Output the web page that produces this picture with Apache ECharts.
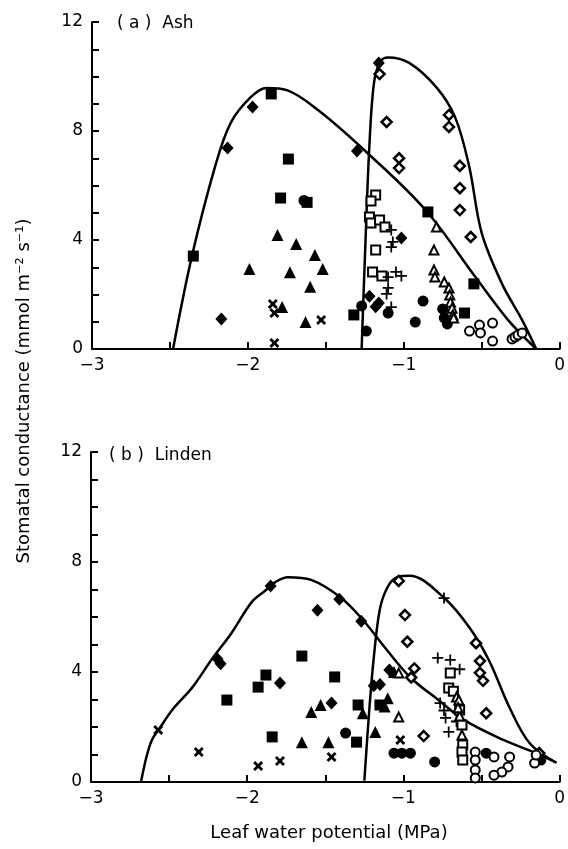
<!DOCTYPE html>
<html>
<head>
<meta charset="utf-8">
<script src="https://cdn.jsdelivr.net/npm/echarts@6/dist/echarts.min.js"></script>
<style>
  html, body { margin: 0; padding: 0; background: #fff; }
  #chart { width: 568px; height: 849px; }
</style>
</head>
<body>
<div id="chart"></div>
<script>
// ---- data: [leaf water potential (MPa), conductance] ----
const xTicks = [-3, -2, -1, 0]
const yTicks = [0, 4, 8, 12]

// (a) Ash
const ashCurveLeft = [[-2.48, 0], [-2.36, 3.38], [-2.21, 6.7], [-2.11, 8.3], [-1.98, 9.25], [-1.88, 9.58],
  [-1.75, 9.5], [-1.55, 8.77], [-1.24, 7.23], [-0.86, 5.1], [-0.54, 2.64], [-0.33, 1.06], [-0.15, 0]]
const ashCurveRight = [[-1.27, 0], [-1.245, 4], [-1.22, 7.5], [-1.19, 9.8], [-1.15, 10.55], [-1.1, 10.7],
  [-0.965, 10.5], [-0.79, 9.6], [-0.67, 8.5], [-0.58, 6.7], [-0.5, 4.26], [-0.37, 2.4], [-0.24, 1.06], [-0.15, 0]]
const ashDiamondFilled = [[-1.97, 8.88], [-2.13, 7.38], [-2.17, 1.1], [-1.3, 7.27], [-1.015, 4.07],
  [-1.16, 10.5], [-1.22, 1.94], [-1.16, 1.69], [-1.18, 1.55]]
const ashSquareFilled = [[-1.85, 9.36], [-2.35, 3.41], [-1.74, 6.97], [-1.79, 5.54], [-1.62, 5.38],
  [-0.845, 5.03], [-0.55, 2.39], [-0.61, 1.32], [-1.32, 1.25]]
const ashCircleFilled = [[-1.64, 5.45], [-1.27, 1.58], [-1.1, 1.32], [-1.24, 0.66], [-0.876, 1.76],
  [-0.926, 0.99], [-0.75, 1.47], [-0.74, 1.14], [-0.72, 0.92]]
const ashTriangleFilled = [[-1.81, 4.18], [-1.69, 3.85], [-1.57, 3.45], [-1.99, 2.94], [-1.73, 2.82],
  [-1.52, 2.94], [-1.6, 2.28], [-1.78, 1.54], [-1.63, 0.99]]
const ashCross = [[-1.84, 1.65], [-1.83, 1.32], [-1.53, 1.06], [-1.83, 0.22]]
const ashSquareOpen = [[-1.18, 5.65], [-1.21, 5.43], [-1.22, 4.84], [-1.21, 4.62], [-1.155, 4.73],
  [-1.12, 4.48], [-1.18, 3.63], [-1.2, 2.83], [-1.14, 2.68]]
const ashPlus = [[-1.08, 4.37], [-1.07, 3.93], [-1.08, 3.74], [-1.05, 2.83], [-1.015, 2.68],
  [-1.1, 2.64], [-1.1, 2.24], [-1.11, 2.02], [-1.08, 1.54]]
const ashTriangleOpen = [[-0.79, 4.48], [-0.806, 3.63], [-0.806, 2.9], [-0.8, 2.64], [-0.74, 2.46],
  [-0.71, 2.24], [-0.705, 1.98], [-0.7, 1.72], [-0.69, 1.5], [-0.685, 1.25], [-0.68, 1.14]]
const ashCircleOpen = [[-0.578, 0.66], [-0.514, 0.88], [-0.508, 0.59], [-0.43, 0.95], [-0.43, 0.29],
  [-0.305, 0.37], [-0.286, 0.44], [-0.267, 0.51], [-0.24, 0.59]]
const ashDiamondOpen = [[-1.155, 10.09], [-1.11, 8.33], [-1.03, 7.0], [-1.03, 6.64], [-0.71, 8.59],
  [-0.71, 8.15], [-0.64, 6.72], [-0.64, 5.9], [-0.64, 5.1], [-0.57, 4.11]]

// (b) Linden
const lindenCurveLeft = [[-2.68, 0], [-2.645, 0.91], [-2.61, 1.53], [-2.56, 1.96], [-2.48, 2.62],
  [-2.35, 3.45], [-2.23, 4.44], [-2.1, 5.42], [-1.97, 6.55], [-1.88, 6.98], [-1.82, 7.27], [-1.74, 7.45],
  [-1.59, 7.35], [-1.4, 6.7], [-1.26, 5.9], [-1.12, 4.9], [-0.955, 3.8], [-0.78, 3.0], [-0.61, 2.25],
  [-0.36, 1.53], [-0.15, 1.05], [-0.02, 0.7]]
const lindenCurveRight = [[-1.25, 0.05], [-1.22, 2.5], [-1.19, 4.5], [-1.15, 6.3], [-1.1, 7.1],
  [-1.04, 7.45], [-0.96, 7.5], [-0.74, 6.7], [-0.575, 5.6], [-0.45, 4.4], [-0.32, 2.7], [-0.19, 1.4], [-0.02, 0.7]]
const lindenCross = [[-2.57, 1.89], [-2.31, 1.09], [-1.93, 0.58], [-1.79, 0.76], [-1.46, 0.91], [-1.02, 1.53]]
const lindenDiamondFilled = [[-2.19, 4.47], [-2.17, 4.3], [-1.85, 7.13], [-1.79, 3.6], [-1.55, 6.25],
  [-1.41, 6.65], [-1.27, 5.85], [-1.46, 2.87], [-1.19, 3.5], [-1.15, 3.55], [-1.09, 4.07]]
const lindenSquareFilled = [[-2.13, 2.98], [-1.93, 3.45], [-1.88, 3.89], [-1.84, 1.64], [-1.65, 4.58],
  [-1.44, 3.82], [-1.29, 2.8], [-1.3, 1.45], [-1.15, 2.8]]
const lindenTriangleFilled = [[-1.59, 2.55], [-1.53, 2.8], [-1.65, 1.45], [-1.48, 1.45], [-1.26, 2.5],
  [-1.18, 1.82], [-1.1, 3.05], [-1.12, 2.75], [-1.06, 4.0]]
const lindenCircleFilled = [[-1.37, 1.78], [-1.06, 1.05], [-1.01, 1.05], [-0.955, 1.05], [-0.8, 0.73],
  [-0.47, 1.05], [-0.12, 0.8]]
const lindenDiamondOpen = [[-1.03, 7.31], [-0.99, 6.07], [-0.975, 5.1], [-0.93, 4.13], [-0.95, 3.8],
  [-0.87, 1.67], [-0.535, 5.05], [-0.51, 4.4], [-0.51, 3.97], [-0.49, 3.68], [-0.47, 2.5], [-0.13, 1.05]]
const lindenPlus = [[-0.74, 6.69], [-0.78, 4.51], [-0.7, 4.44], [-0.64, 4.1], [-0.765, 2.87],
  [-0.74, 2.6], [-0.73, 2.33], [-0.71, 1.82], [-0.66, 2.2]]
const lindenSquareOpen = [[-0.7, 3.96], [-0.71, 3.42], [-0.68, 3.3], [-0.64, 2.62], [-0.625, 2.07],
  [-0.62, 1.35], [-0.625, 1.09], [-0.62, 0.8]]
const lindenTriangleOpen = [[-1.03, 3.96], [-1.03, 2.36], [-0.66, 3.09], [-0.645, 2.98], [-0.64, 2.4],
  [-0.625, 1.71], [-0.65, 2.7]]
const lindenCircleOpen = [[-0.54, 1.09], [-0.54, 0.8], [-0.54, 0.44], [-0.54, 0.15], [-0.42, 0.91],
  [-0.32, 0.91], [-0.33, 0.55], [-0.37, 0.36], [-0.42, 0.25], [-0.16, 0.69], [-0.15, 0.98]]

const crossPath = 'path://M2,0L5,3L8,0L10,2L7,5L10,8L8,10L5,7L2,10L0,8L3,5L0,2Z'
const plusPath = 'path://M4.2,0H5.8V4.2H10V5.8H5.8V10H4.2V5.8H0V4.2H4.2Z'

const styles = {
  diamondF: { symbol: 'diamond', symbolSize: [12, 13], itemStyle: { color: '#000', opacity: 1 } },
  squareF: { symbol: 'rect', symbolSize: 11, itemStyle: { color: '#000', opacity: 1 } },
  circleF: { symbol: 'circle', symbolSize: 11, itemStyle: { color: '#000', opacity: 1 } },
  triF: { symbol: 'triangle', symbolSize: 12, itemStyle: { color: '#000', opacity: 1 } },
  cross: { symbol: crossPath, symbolSize: 10, itemStyle: { color: '#000', opacity: 1 } },
  plus: { symbol: plusPath, symbolSize: 11, itemStyle: { color: '#000', opacity: 1 } },
  squareO: { symbol: 'rect', symbolSize: 9, itemStyle: { color: '#fff', borderColor: '#000', borderWidth: 2, opacity: 1 } },
  triO: { symbol: 'triangle', symbolSize: 9, itemStyle: { color: '#fff', borderColor: '#000', borderWidth: 2, opacity: 1 } },
  circleO: { symbol: 'circle', symbolSize: 9, itemStyle: { color: '#fff', borderColor: '#000', borderWidth: 2, opacity: 1 } },
  diamondO: { symbol: 'diamond', symbolSize: 10, itemStyle: { color: '#fff', borderColor: '#000', borderWidth: 2.5, opacity: 1 } }
}

function scatter(data, style, idx) {
  return Object.assign({
    type: 'scatter', xAxisIndex: idx, yAxisIndex: idx, data: data, z: 3
  }, styles[style])
}

function curve(data, idx) {
  return {
    type: 'line', xAxisIndex: idx, yAxisIndex: idx, data: data, smooth: 0.35,
    showSymbol: false, lineStyle: { color: '#000', width: 2.5 }, z: 2
  }
}

function xAxis(idx) {
  return {
    type: 'value', gridIndex: idx, min: -3, max: 0, interval: 1,
    axisLine: { onZero: false, lineStyle: { color: '#000', width: 2 } },
    axisTick: { inside: true, length: 7, lineStyle: { width: 2 } },
    minorTick: { show: true, splitNumber: 2, length: 7, lineStyle: { color: '#000', width: 2 } },
    splitLine: { show: false },
    axisLabel: {
      color: '#000', fontSize: 17, fontFamily: 'DejaVu Sans', margin: 8,
      formatter: v => (v < 0 ? '\u2212' + Math.abs(v) : String(v))
    }
  }
}

function yAxis(idx) {
  return {
    type: 'value', gridIndex: idx, min: 0, max: 12, interval: 4,
    axisLine: { show: true, onZero: false, lineStyle: { color: '#000', width: 2 } },
    axisTick: { show: true, inside: true, length: 7, lineStyle: { width: 2 } },
    minorTick: { show: true, splitNumber: 4, length: 7, lineStyle: { color: '#000', width: 2 } },
    splitLine: { show: false },
    axisLabel: { color: '#000', fontSize: 17, fontFamily: 'DejaVu Sans', margin: 9 }
  }
}

const chart = echarts.init(document.getElementById('chart'), null, { renderer: 'canvas' })

const option = {
  backgroundColor: '#fff',
  animation: false,
  grid: [
    { left: 92, top: 22, width: 473, height: 327 },
    { left: 91, top: 452, width: 472, height: 330 }
  ],
  xAxis: [xAxis(0), xAxis(1)],
  yAxis: [yAxis(0), yAxis(1)],
  graphic: [
    { type: 'text', left: 117, top: 15, style: { text: '( a )  Ash', font: '17px DejaVu Sans', fill: '#000' } },
    { type: 'text', left: 109, top: 447, style: { text: '( b )  Linden', font: '17px DejaVu Sans', fill: '#000' } },
    {
      type: 'text', x: 24, y: 391, rotation: Math.PI / 2,
      style: {
        text: 'Stomatal conductance (mmol m\u207B\u00B2 s\u207B\u00B9)', font: '18px DejaVu Sans',
        fill: '#000', align: 'center', verticalAlign: 'middle'
      }
    },
    {
      type: 'text', x: 329, y: 833,
      style: { text: 'Leaf water potential (MPa)', font: '18px DejaVu Sans', fill: '#000', align: 'center', verticalAlign: 'middle' }
    }
  ],
  series: [
    curve(ashCurveLeft, 0), curve(ashCurveRight, 0),
    scatter(ashDiamondFilled, 'diamondF', 0),
    scatter(ashSquareFilled, 'squareF', 0),
    scatter(ashCircleFilled, 'circleF', 0),
    scatter(ashTriangleFilled, 'triF', 0),
    scatter(ashCross, 'cross', 0),
    scatter(ashSquareOpen, 'squareO', 0),
    scatter(ashPlus, 'plus', 0),
    scatter(ashTriangleOpen, 'triO', 0),
    scatter(ashCircleOpen, 'circleO', 0),
    scatter(ashDiamondOpen, 'diamondO', 0),
    curve(lindenCurveLeft, 1), curve(lindenCurveRight, 1),
    scatter(lindenCross, 'cross', 1),
    scatter(lindenDiamondFilled, 'diamondF', 1),
    scatter(lindenSquareFilled, 'squareF', 1),
    scatter(lindenTriangleFilled, 'triF', 1),
    scatter(lindenCircleFilled, 'circleF', 1),
    scatter(lindenDiamondOpen, 'diamondO', 1),
    scatter(lindenPlus, 'plus', 1),
    scatter(lindenSquareOpen, 'squareO', 1),
    scatter(lindenTriangleOpen, 'triO', 1),
    scatter(lindenCircleOpen, 'circleO', 1)
  ]
}

chart.setOption(option)
</script>
</body>
</html>
